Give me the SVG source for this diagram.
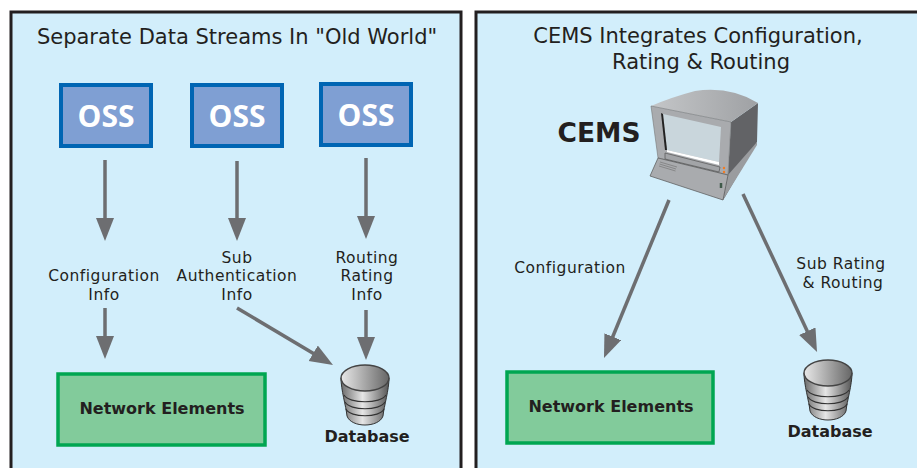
<svg xmlns="http://www.w3.org/2000/svg" width="917" height="468" viewBox="0 0 917 468">
<style>
.t{font-family:"DejaVu Sans","Liberation Sans",sans-serif;fill:#231f20;text-anchor:middle}
.h{font-size:21px}
.l{font-size:15.500px;letter-spacing:.5px}
.b{font-weight:700;font-family:"DejaVu Sans","Liberation Sans",sans-serif;font-size:16px;fill:#231f20;text-anchor:middle}
.oss{fill:#7f9fd3;stroke:#0065b3;stroke-width:4}
.ne{fill:#82cb9b;stroke:#00a651;stroke-width:3.500}
.o{font-family:"Open Sans","Noto Sans",sans-serif;font-weight:700;font-size:30px;fill:#fff;text-anchor:middle}
.c{stroke:#6d6e71;stroke-width:3.500;fill:none;marker-end:url(#a)}
.panel{fill:#d2eefb;stroke:#231f20;stroke-width:3}
</style>
<defs>
<marker id="a" markerUnits="userSpaceOnUse" markerWidth="24" markerHeight="20" refX="13" refY="9" orient="auto"><path d="M0 0L23 9L0 18z" fill="#6d6e71"/></marker>
<linearGradient id="cyl"><stop offset="0" stop-color="#6a6a6a"/><stop offset=".45" stop-color="#e6e6e6"/><stop offset="1" stop-color="#555"/></linearGradient>
<linearGradient id="cyl2"><stop offset="0" stop-color="#e8e8e8"/><stop offset="1" stop-color="#666"/></linearGradient>
<linearGradient id="top" x1="0" y1="0" x2="1" y2="0"><stop offset="0" stop-color="#c4c6c8"/><stop offset="1" stop-color="#9fa1a4"/></linearGradient>
<g id="db">
<path d="M-24 0C-24 12 -19 28 -18 38C-14 50 14 50 18 38C19 28 24 12 24 0z" fill="url(#cyl)" stroke="#333"/>
<ellipse cx="0" cy="0" rx="24" ry="13" fill="url(#cyl2)" stroke="#444" stroke-width="1.500"/>
<path d="M-21 17C-16 26 16 26 21 17M-20 24C-15 33 15 33 20 24M-19 31C-15 40 15 40 19 31" fill="none" stroke="#333" stroke-width="1.200"/>
</g>
</defs>
<rect width="917" height="468" fill="#fff"/>
<rect id="left-panel" class="panel" x="11" y="12" width="450" height="460"/>
<rect id="right-panel" class="panel" x="476" y="12" width="445" height="460"/>
<text class="t h" x="237" y="44">Separate Data Streams In "Old World"</text>
<text class="t h" x="698" y="43">CEMS Integrates Configuration,</text>
<text class="t h" x="701" y="69">Rating &amp; Routing</text>
<g id="connectors">
<path class="c" d="M105 160V231"/>
<path class="c" d="M237 161V231"/>
<path class="c" d="M366 158V229"/>
<path class="c" d="M105 308V349"/>
<path class="c" d="M366 310V350"/>
<path class="c" d="M237 308L324.400 359.900"/>
<path class="c" d="M669 200L607.800 348.750"/>
<path class="c" d="M743 194L812.800 343"/>
</g>
<g id="oss1"><rect class="oss" x="61" y="85" width="90" height="61"/><text class="o" x="106" y="127">OSS</text></g>
<g id="oss2"><rect class="oss" x="192" y="85" width="90" height="61"/><text class="o" x="237" y="127">OSS</text></g>
<g id="oss3"><rect class="oss" x="321" y="84" width="90" height="61"/><text class="o" x="366" y="126">OSS</text></g>
<g id="labels">
<text class="t l" x="104" y="281">Configuration</text><text class="t l" x="104" y="300">Info</text>
<text class="t l" x="237" y="263">Sub</text><text class="t l" x="237" y="281">Authentication</text><text class="t l" x="237" y="300">Info</text>
<text class="t l" x="367" y="263">Routing</text><text class="t l" x="367" y="281">Rating</text><text class="t l" x="367" y="300">Info</text>
<text class="t l" x="570" y="273">Configuration</text>
<text class="t l" x="841" y="269">Sub Rating</text><text class="t l" x="843" y="288">&amp; Routing</text>
</g>
<g id="ne1"><rect class="ne" x="58" y="374" width="207" height="71"/><text class="b" x="162" y="414">Network Elements</text></g>
<g id="ne2"><rect class="ne" x="507" y="372" width="206" height="71"/><text class="b" x="611" y="412">Network Elements</text></g>
<g id="db1"><use href="#db" x="365" y="378"/><text class="b" x="367" y="442">Database</text></g>
<g id="db2"><use href="#db" x="828" y="373"/><text class="b" x="830" y="437">Database</text></g>
<g id="cems">
<text x="599" y="142" font-family="'DejaVu Sans','Liberation Sans',sans-serif" font-weight="700" font-size="26.500" fill="#231f20" text-anchor="middle">CEMS</text>
<path d="M731 122L758 103L757 142L725 197L723 200L728 175z" fill="#626366"/>
<path d="M728 175L757 142V145L723 200z" fill="#9a9c9f"/>
<path d="M651 106Q672 97 695 91Q730 86 758 103L731 122z" fill="url(#top)"/>
<path d="M651 106L731 122L728 175L658 158z" fill="#a9abae" stroke="#777" stroke-width=".6"/>
<path d="M663 114L721 127L719 162L667 150z" fill="#c9d6dc"/>
<path d="M661 113L663 114L667 150L665 150z" fill="#222"/>
<path d="M667 150L719 162V165L667 152z" fill="#fff"/>
<path d="M665 153L720 167L719 172L665 159z" fill="#a2a4a7" stroke="#555" stroke-width=".7"/>
<path d="M658 158L728 175L723 200L650 176z" fill="#a9abae" stroke="#555" stroke-width=".7"/>
<path d="M660 162L677 167M659.500 164L676 169M659 166L675.500 171" stroke="#777" stroke-width=".7"/>
<circle cx="724" cy="168" r="1.200" fill="#f47b20"/><circle cx="724" cy="172" r="1.200" fill="#f47b20"/>
<path d="M721 183V188" stroke="#3f5a4a" stroke-width="2.500"/>
</g>
</svg>
